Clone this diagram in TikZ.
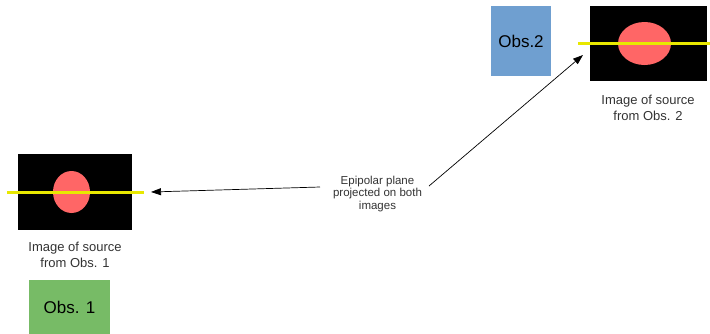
\documentclass[tikz,border=0pt]{standalone}
\usepackage{fontspec}
\setmainfont{Liberation Sans}
\usetikzlibrary{arrows.meta}
\definecolor{obsgreen}{HTML}{77BB66}
\definecolor{obsblue}{HTML}{6F9FD0}
\definecolor{srcred}{HTML}{FF6666}
\definecolor{epiyellow}{HTML}{E8E800}
\definecolor{txt}{HTML}{333333}
\tikzset{
  obsbox/.style={draw=none, minimum width=#1, inner sep=0pt, font=\fontsize{17}{20}\selectfont, text=black},
  frame/.style={fill=black, draw=none},
  source/.style={fill=srcred, draw=none},
  epiline/.style={draw=epiyellow, line width=3pt},
  caption/.style={align=center, text=txt, font=\fontsize{13}{16}\selectfont, inner sep=0pt},
  note/.style={align=center, text=txt, font=\fontsize{11.5}{12.5}\selectfont, inner sep=0pt},
  pointer/.style={draw=black, line width=0.7pt, -{Triangle[length=10pt,width=7pt]}},
}
\begin{document}
\begin{tikzpicture}[x=1pt, y=-1pt]
\useasboundingbox (0,0) rectangle (710,333);

% first observer's image
\fill[frame] (18,154) rectangle (132,230);
\fill[source] (71.5,192) ellipse [x radius=18.5, y radius=21];
\draw[epiline] (7,192) -- (144,192);
\coordinate (tipA) at (151,192);
\node[caption] (capA) at (75,255) {Image of source\\from Obs. 1};
\node[obsbox=81pt, fill=obsgreen, minimum height=54pt] (obsA) at (69.5,307) {Obs. 1};

% second observer's image
\node[obsbox=60pt, fill=obsblue, minimum height=70pt] (obsB) at (521,41) {Obs.2};
\fill[frame] (590,6) rectangle (707,81);
\fill[source] (644.5,43.5) ellipse [x radius=26.5, y radius=21.5];
\draw[epiline] (578,43) -- (712,43);
\coordinate (tipB) at (583,55);
\node[caption] (capB) at (648,108) {Image of source\\from Obs. 2};

% label and pointers
\node[note] (epi) at (377.5,194) {Epipolar plane\\projected on both\\images};
\draw[pointer] ([shift={(-57.5,-7)}]epi.center) -- (tipA);
\draw[pointer] ([shift={(51.5,-8)}]epi.center) -- (tipB);
\end{tikzpicture}
\end{document}
